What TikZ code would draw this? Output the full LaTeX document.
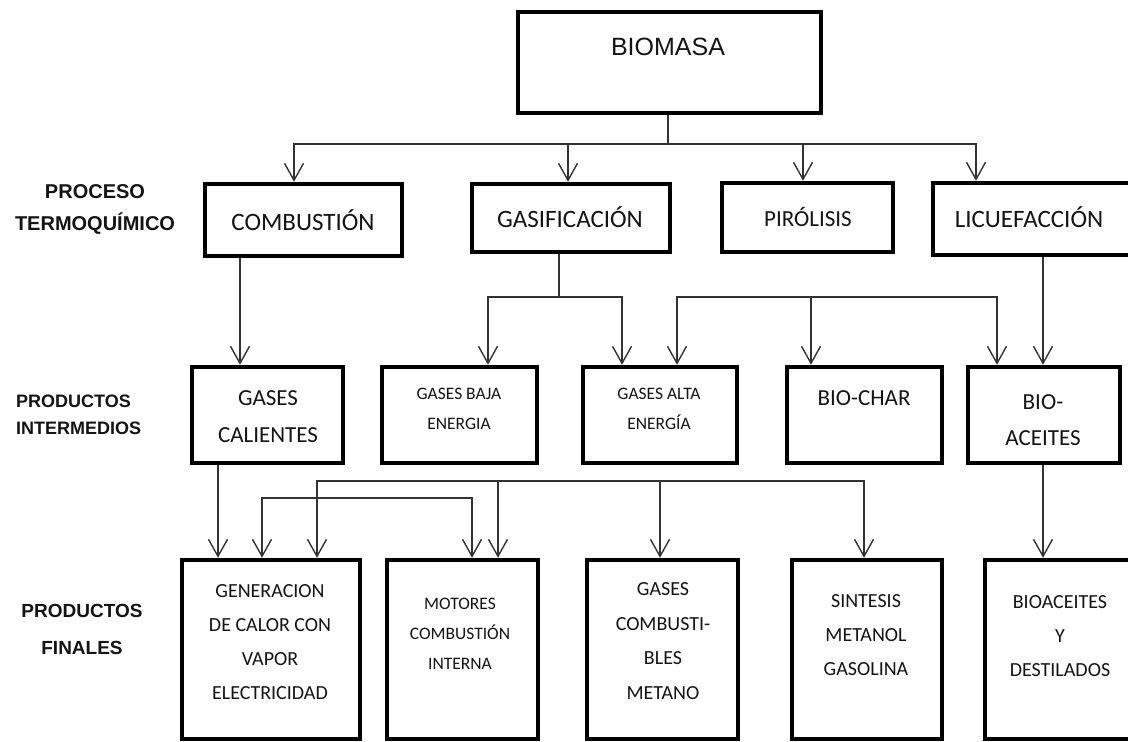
\documentclass[tikz,border=0pt]{standalone}
\usepackage{fontspec}
\setmainfont{Carlito}
\newfontfamily\arialfont{Liberation Sans}
\usetikzlibrary{arrows.meta}

\begin{document}
\begin{tikzpicture}[x=1pt,y=-1pt,
  box/.style={draw=black, line width=4.5pt, rectangle, inner sep=0pt},
  link/.style={line width=1.4pt, draw=black!80},
  arr/.style={link, -{Straight Barb[length=17pt,width=19pt,line width=1.4pt]}},
  txt/.style={inner sep=0pt, align=center, text=black!92},
  big/.style={txt, font=\fontsize{25}{30}\selectfont},
  mid/.style={txt, font=\fontsize{23}{37}\selectfont},
  small/.style={txt, font=\fontsize{17.5}{30}\selectfont},
  prod/.style={txt, font=\fontsize{20}{34}\selectfont},
  side/.style={inner sep=0pt, text=black!92, font=\arialfont\bfseries\fontsize{19}{32}\selectfont}]

\useasboundingbox (0,0) rectangle (1128,742);
\fill[white] (0,0) rectangle (1128,742);
\clip (0,0) rectangle (1128,742);

% ---------- boxes ----------
\node[box, minimum width=303pt, minimum height=101pt] (bio) at (669.5,62.5) {};
% thermochemical processes
\node[box, minimum width=197pt, minimum height=72pt] (comb)  at (303.5,220) {};
\node[box, minimum width=198pt, minimum height=68pt] (gasif) at (571,218) {};
\node[box, minimum width=171pt, minimum height=69pt] (piro)  at (807.5,217.5) {};
\node[box, minimum width=217pt, minimum height=72pt] (licu)  at (1041.5,219) {};
% intermediate products
\node[box, minimum width=151pt, minimum height=96pt] (gcal)  at (267.5,415) {};
\node[box, minimum width=155pt, minimum height=96pt] (gbaja) at (459.5,415) {};
\node[box, minimum width=154pt, minimum height=96pt] (galta) at (660,415) {};
\node[box, minimum width=155pt, minimum height=96pt] (bchar) at (864.5,415) {};
\node[box, minimum width=152pt, minimum height=96pt] (bacei) at (1044,415) {};
% final products
\node[box, minimum width=178pt, minimum height=179pt] (gen)   at (271,649.5) {};
\node[box, minimum width=151pt, minimum height=179pt] (mot)   at (462.5,649.5) {};
\node[box, minimum width=151pt, minimum height=179pt] (gcomb) at (662.5,649.5) {};
\node[box, minimum width=150pt, minimum height=179pt] (sint)  at (867,649.5) {};
\node[box, minimum width=165pt, minimum height=179pt] (bdest) at (1067.5,649.5) {};

% ---------- texts ----------
\node[txt, font=\arialfont\fontsize{25}{30}\selectfont] (tbio) at (668,47) {BIOMASA};
\node[big] (tcomb)  at (303,220) {COMBUSTIÓN};
\node[big] (tgasif) at (570,217) {GASIFICACIÓN};
\node[txt, font=\fontsize{23}{30}\selectfont] (tpiro) at (808,217) {PIRÓLISIS};
\node[big] (tlicu)  at (1029,217) {LICUEFACCIÓN};

\node[mid]   (tgcal)  at (268,417) {GASES\\CALIENTES};
\node[small] (tgbaja) at (459,409) {GASES BAJA\\ENERGIA};
\node[small] (tgalta) at (659,409) {GASES ALTA\\ENERGÍA};
\node[mid]   (tbchar) at (864,398) {BIO-CHAR};
\node[txt, font=\fontsize{23}{36}\selectfont] (tbacei) at (1043,420) {BIO-\\ACEITES};

\node[prod] (tgen)   at (270,642) {GENERACION\\DE CALOR CON\\VAPOR\\ELECTRICIDAD};
\node[txt, font=\fontsize{17.5}{30}\selectfont] (tmot) at (460,634) {MOTORES\\COMBUSTIÓN\\INTERNA};
\node[txt, font=\fontsize{20}{34.5}\selectfont] (tgcomb) at (663,641) {GASES\\COMBUSTI-\\BLES\\METANO};
\node[prod] (tsint)  at (866,635) {SINTESIS\\METANOL\\GASOLINA};
\node[prod] (tbdest) at (1060,636) {BIOACEITES\\Y\\DESTILADOS};

% ---------- row labels ----------
\node[side, align=center, font=\arialfont\bfseries\fontsize{20}{32}\selectfont] (lproc) at (95,209) {PROCESO\\TERMOQUÍMICO};
\node[side, align=left, anchor=west, font=\arialfont\bfseries\fontsize{18}{27}\selectfont] (linter) at (16,414.5) {PRODUCTOS\\INTERMEDIOS};
\node[side, align=center, font=\arialfont\bfseries\fontsize{19}{37}\selectfont] (lfinal) at (82,629.5) {PRODUCTOS\\FINALES};

% ---------- biomass to processes ----------
\coordinate (busA) at (668,144);
\draw[link] (bio.south -| busA) -- (busA);
\draw[arr] (busA) -| (comb.north -| 294,0);
\draw[arr] (busA) -| (gasif.north -| 568,0);
\draw[arr] (busA) -| (piro.north -| 803,0);
\draw[arr] (busA) -| (licu.north -| 976,0);

% ---------- processes to intermediate products ----------
\draw[arr] (comb.south -| 240,0) -- (gcal.north -| 240,0);

\coordinate (busB) at (559,297);
\draw[link] (gasif.south -| busB) -- (busB);
\draw[arr] (busB) -| (gbaja.north -| 488,0);
\draw[arr] (busB) -| (galta.north -| 622,0);

\coordinate (busC) at (811,297);
\draw[arr] (busC) -- (bchar.north -| busC);
\draw[arr] (busC) -| (galta.north -| 677,0);
\draw[arr] (busC) -| (bacei.north -| 997,0);

\draw[arr] (licu.south -| 1043,0) -- (bacei.north -| 1043,0);

% ---------- intermediate to final products ----------
\draw[arr] (gcal.south -| 218,0) -- (gen.north -| 218,0);

\coordinate (busD) at (367,498);
\draw[arr] (busD) -| (gen.north -| 262,0);
\draw[arr] (busD) -| (mot.north -| 472,0);

\coordinate (busE) at (660,481);
\draw[arr] (busE) -- (gcomb.north -| busE);
\draw[arr] (busE) -| (gen.north -| 317,0);
\draw[arr] (busE) -| (mot.north -| 498,0);
\draw[arr] (busE) -| (sint.north -| 864,0);

\draw[arr] (bacei.south -| 1043,0) -- (bdest.north -| 1043,0);
\end{tikzpicture}
\end{document}
